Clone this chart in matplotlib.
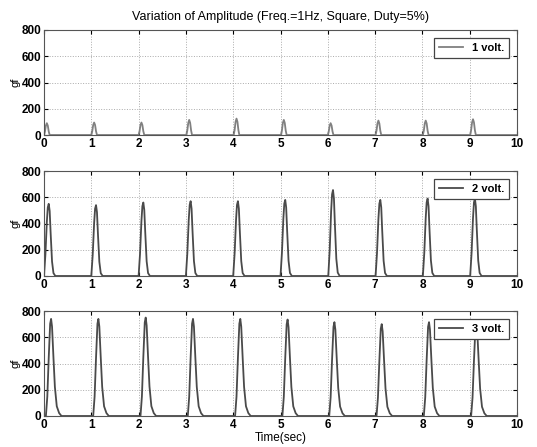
import matplotlib
matplotlib.use("Agg")
import matplotlib.pyplot as plt
import numpy as np

plt.rcParams["font.family"] = ["Liberation Sans", "DejaVu Sans"]
plt.rcParams["font.weight"] = "bold"

TITLE = "Variation of Amplitude (Freq.=1Hz, Square, Duty=5%)"
LABELS = ["1 volt.", "2 volt.", "3 volt."]

# peak time (sec) and peak force (gf) for each pulse
PEAK_T_1V = [0.06, 1.06, 2.06, 3.07, 4.07, 5.07, 6.06, 7.07, 8.07, 9.07]
PEAK_1V = [90, 95, 95, 115, 125, 115, 90, 110, 110, 120]
PEAK_T_2V = [0.10, 1.10, 2.10, 3.10, 4.10, 5.10, 6.11, 7.11, 8.11, 9.11]
PEAK_2V = [550, 540, 560, 570, 570, 580, 655, 580, 590, 590]
PEAK_T_3V = [0.15, 1.15, 2.15, 3.15, 4.15, 5.15, 6.14, 7.14, 8.14, 9.14]
PEAK_3V = [740, 740, 750, 740, 740, 735, 715, 700, 715, 700]

# pulse outline (offset from peak in sec, fraction of peak), one per panel
SHAPE_T_1V = [-0.06, -0.04, -0.02, 0.0, 0.02, 0.04, 0.06]
SHAPE_F_1V = [0.0, 0.3, 0.8, 1.0, 0.8, 0.3, 0.0]
SHAPE_T_2V = [-0.10, -0.07, -0.04, -0.02, 0.0, 0.02, 0.04, 0.07, 0.10, 0.14]
SHAPE_F_2V = [0.0, 0.3, 0.75, 0.95, 1.0, 0.9, 0.6, 0.2, 0.04, 0.0]
SHAPE_T_3V = [-0.11, -0.08, -0.05, -0.02, 0.0, 0.02, 0.05, 0.08, 0.12, 0.17, 0.22]
SHAPE_F_3V = [0.0, 0.2, 0.6, 0.95, 1.0, 0.92, 0.6, 0.3, 0.1, 0.03, 0.0]

SERIES = [
    (PEAK_T_1V, PEAK_1V, SHAPE_T_1V, SHAPE_F_1V),
    (PEAK_T_2V, PEAK_2V, SHAPE_T_2V, SHAPE_F_2V),
    (PEAK_T_3V, PEAK_3V, SHAPE_T_3V, SHAPE_F_3V),
]


def trace(peak_t, peaks, shape_t, shape_f):
    xs, ys = [0.0], [0.0]
    for t0, p in zip(peak_t, peaks):
        for dt, f in zip(shape_t, shape_f):
            xs.append(max(t0 + dt, 0.0))
            ys.append(p * f)
    xs.append(10.0)
    ys.append(0.0)
    return np.array(xs), np.array(ys)


fig = plt.figure(figsize=(5.37, 4.47), dpi=100)
tops = [30, 171, 311]
height = 105
axes = []
for top in tops:
    ax = fig.add_axes([44 / 537, 1 - (top + height) / 447, 473 / 537, height / 447])
    axes.append(ax)

colors = ["#808080", "#4a4a4a", "#4a4a4a"]
for ax, (pt, pk, st, sf), lab, c in zip(axes, SERIES, LABELS, colors):
    x, y = trace(pt, pk, st, sf)
    ax.plot(x, y, color=c, linewidth=1.3, label=lab)
    ax.set_xlim(0, 10)
    ax.set_ylim(0, 800)
    ax.set_xticks(range(0, 11))
    ax.set_yticks([0, 200, 400, 600, 800])
    ax.tick_params(direction="in", top=True, right=True, labelsize=8.5,
                   length=3, pad=2)
    ax.grid(True, linestyle=":", color="#aaaaaa", linewidth=0.7)
    ax.set_ylabel("gf", fontsize=8, labelpad=1)
    for s in ax.spines.values():
        s.set_color("#555555")
        s.set_linewidth(0.8)
    leg = ax.legend(loc="upper right", fontsize=8, fancybox=False,
                    framealpha=1, edgecolor="#444444", handlelength=2.2,
                    borderpad=0.45, borderaxespad=0.7)
    leg.get_frame().set_linewidth(0.9)

axes[0].set_title(TITLE, fontsize=9, fontweight="normal", pad=7)
axes[2].set_xlabel("Time(sec)", fontsize=8.5, labelpad=1)

fig.savefig("out.png", dpi=100)
